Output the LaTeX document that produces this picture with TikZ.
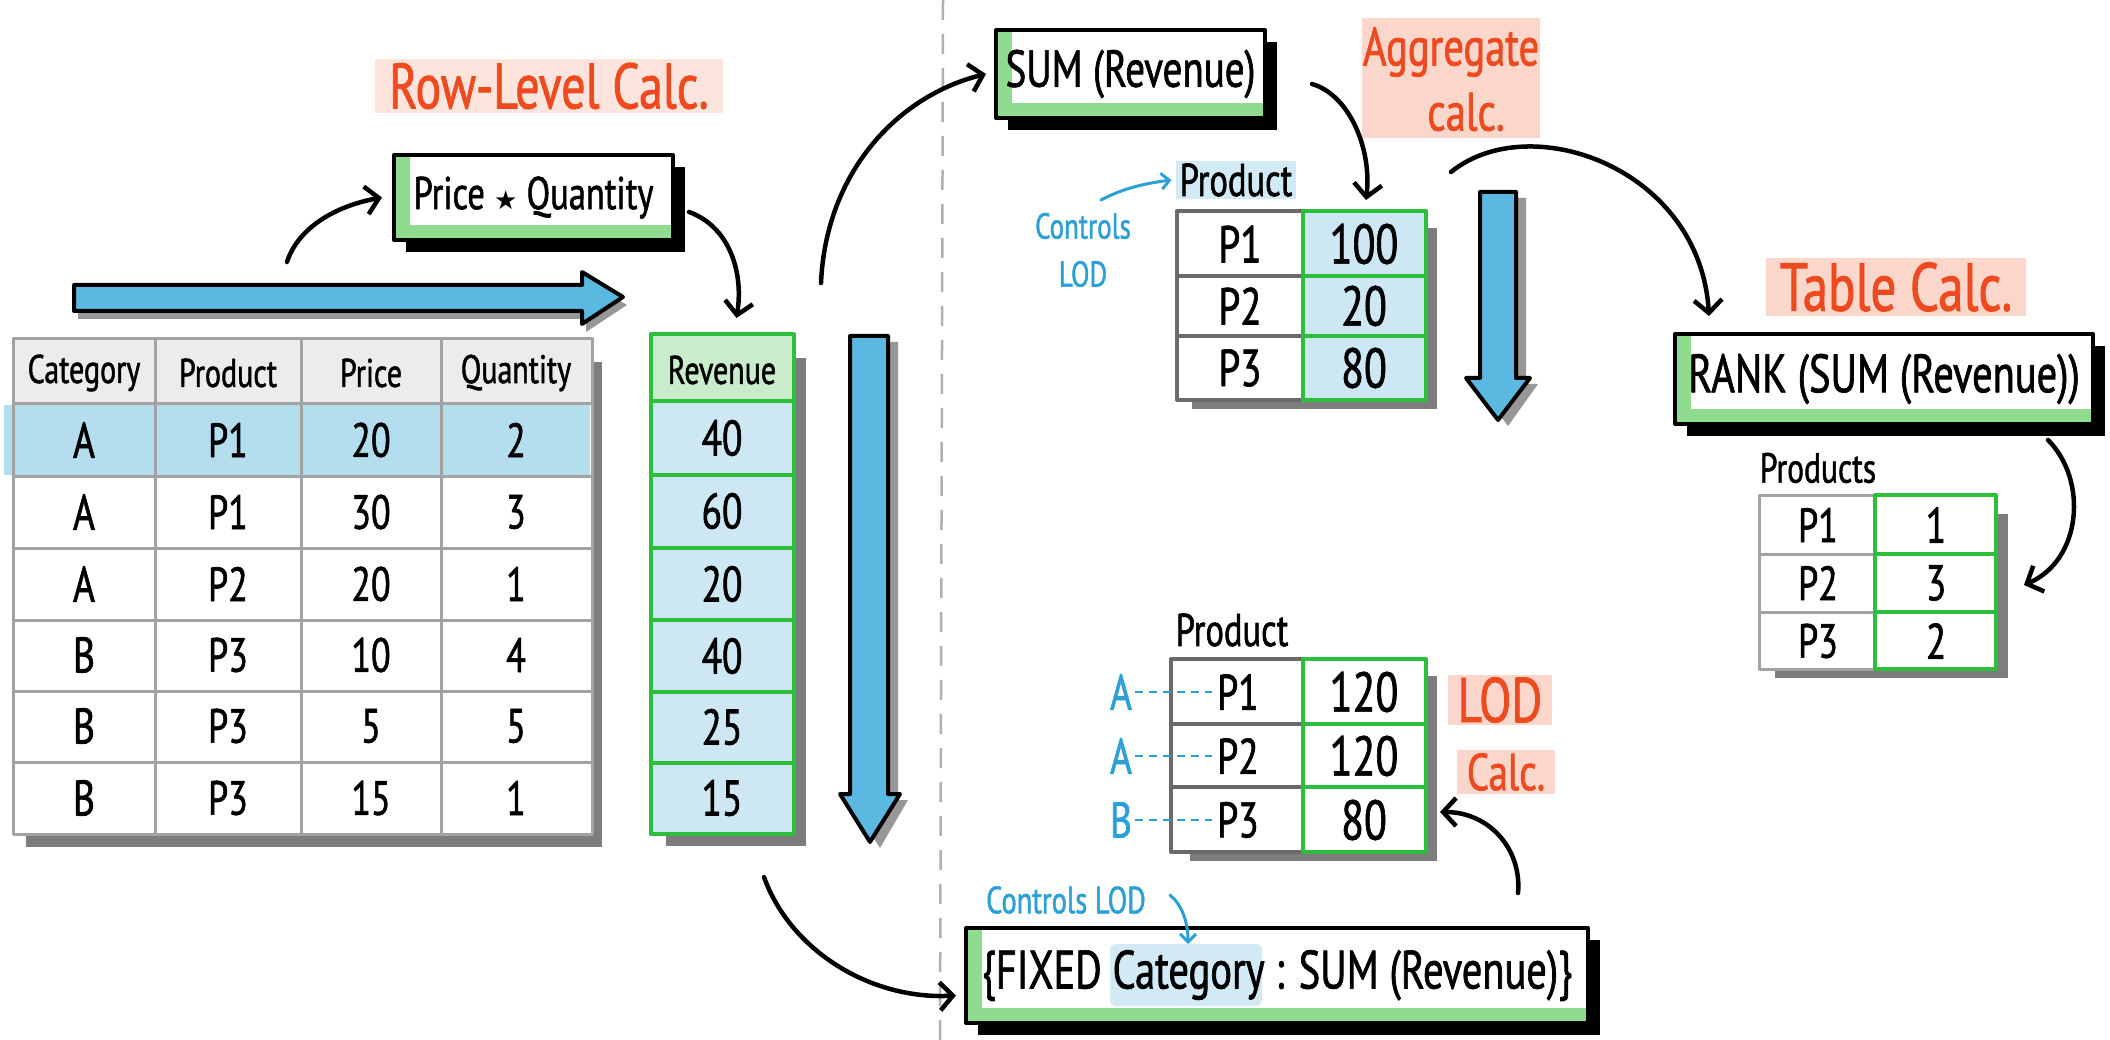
\documentclass[tikz,border=0pt]{standalone}
\usepackage{fontspec}
\setmainfont{PT Sans}
\newfontfamily\hand[FakeStretch=0.75,FakeBold=1.2]{PT Sans}
\newfontfamily\symf{DejaVu Sans}
\usetikzlibrary{arrows.meta}
\definecolor{ablue}{HTML}{5BB8E0}
\definecolor{cellblue}{HTML}{CDE8F4}
\definecolor{rowblue}{HTML}{B4DDEE}
\definecolor{lgreen}{HTML}{C9EDCA}
\definecolor{tgreen}{HTML}{2DBE3C}
\definecolor{boxgreen}{HTML}{8FDC90}
\definecolor{orng}{HTML}{EE4A1F}
\definecolor{hlpink}{HTML}{FBD6CB}
\definecolor{hlpinkl}{HTML}{FDE4DC}
\definecolor{tblue}{HTML}{2BA0D6}
\definecolor{hlblue}{HTML}{D2EAF5}
\definecolor{shgray}{HTML}{7D7D7D}
\definecolor{tgray}{HTML}{A2A2A2}
\definecolor{dgray}{HTML}{6A6A6A}
\definecolor{hdrgray}{HTML}{ECECEC}
\definecolor{divgray}{HTML}{B0B0B0}
\newcommand\hsz[1]{\fontsize{#1}{#1}\selectfont}
% name, x, y, w, h, font size, text, extra drawing under the text
\newcommand\calcbox[8]{%
  \fill[black] ({#2-#4/2+12},{#3-#5/2+12}) rectangle ({#2+#4/2+12},{#3+#5/2+12});
  \fill[white] ({#2-#4/2},{#3-#5/2}) rectangle ({#2+#4/2},{#3+#5/2});
  \fill[boxgreen] ({#2-#4/2+2},{#3-#5/2+2}) rectangle ({#2-#4/2+16},{#3+#5/2-2});
  \fill[boxgreen] ({#2-#4/2+2},{#3+#5/2-15}) rectangle ({#2+#4/2-2},{#3+#5/2-2});
  #8
  \node[draw=black, line width=4pt, minimum width=#4pt, minimum height=#5pt, inner sep=0pt, outer sep=0pt, font=\hand\hsz{#6}] (#1) at (#2,#3) {#7};
}
\tikzset{
  txt/.style={inner sep=0pt, text=black},
  frame/.style={inner sep=0pt, outer sep=0pt},
  carrow/.style={line width=4.5pt, line cap=round, -{Straight Barb[length=13pt,width=28pt,line width=4.5pt]}},
  barrow/.style={line width=3pt, draw=tblue, line cap=round, -{Straight Barb[length=8pt,width=16pt,line width=3pt]}},
  bigarrow/.style={fill=ablue, draw=black, line width=4pt, line join=round},
  arrowshadow/.style={fill=shgray!80},
  tline/.style={draw=tgray, line width=3pt},
  gline/.style={draw=tgreen, line width=4pt},
  dline/.style={draw=dgray, line width=4pt},
  calclabel/.style={text=orng, font=\hand\hsz{64}, inner xsep=14pt, inner ysep=4pt},
  bluetxt/.style={text=tblue, inner sep=0pt},
}
\begin{document}
\begin{tikzpicture}[x=1pt, y=-1pt, line join=round]
\useasboundingbox (0,0) rectangle (2110,1040);
\fill[white] (0,0) rectangle (2110,1040);

% divider
\draw[divgray, line width=2.5pt, dash pattern=on 20pt off 14pt] (943,0) -- (940,1040);

% ---------- Row-level calc ----------
\node[calclabel, fill=hlpinkl] (rowlbl) at (549,86) {Row-Level Calc.};

% horizontal blue arrow
\fill[arrowshadow] (78,293) -- (586,293) -- (586,280) -- (627,305) -- (586,332) -- (586,319) -- (78,319) -- cycle;
\draw[bigarrow] (74,285) -- (582,285) -- (582,272) -- (623,297) -- (582,324) -- (582,311) -- (74,311) -- cycle;

% source table
\fill[shgray] (26,362) rectangle (602,847);
\fill[white] (13,339) rectangle (592,834);
\fill[hdrgray] (13,339) rectangle (592,404);
\fill[rowblue] (4,405) rectangle (590,475);
\foreach \yy in {404,476,548,620,691,762} \draw[tline] (13,\yy) -- (592,\yy);
\foreach \xx in {155,301,441} \draw[tline] (\xx,339) -- (\xx,834);
\draw[tline] (13,339) rectangle (592,834);
\node[frame, minimum width=579pt, minimum height=495pt] (tbl) at (302.5,586.5) {};
\foreach \c/\x in {Category/84, Product/228, Price/371, Quantity/516}
  \node[txt, font=\hand\hsz{40}] (h\c) at (\x,373) {\c};
\foreach \n/\y/\a/\b/\c/\d in {1/440/A/P1/20/2, 2/512/A/P1/30/3, 3/584/A/P2/20/1, 4/655/B/P3/10/4, 5/726/B/P3/5/5, 6/798/B/P3/15/1}{
  \node[txt, font=\hand\hsz{50}] (cat\n) at (84,\y) {\a};
  \node[txt, font=\hand\hsz{48}] (prd\n) at (228,\y) {\b};
  \node[txt, font=\hand\hsz{48}] (prc\n) at (371,\y) {\c};
  \node[txt, font=\hand\hsz{48}] (qty\n) at (516,\y) {\d};
}

% Price * Quantity box
\calcbox{pq}{533.5}{197.5}{279}{85}{46}{Price {\symf\hsz{26}★} Quantity}{}

% Revenue column
\fill[shgray] (666,358) rectangle (806,846);
\fill[lgreen] (651,334) rectangle (794,401);
\fill[cellblue] (651,401) rectangle (794,834);
\foreach \yy in {401,475,548,620,692,763} \draw[gline] (651,\yy) -- (794,\yy);
\draw[gline] (651,334) rectangle (794,834);
\node[frame, minimum width=143pt, minimum height=500pt] (rev) at (722.5,584) {};
\node[txt, font=\hand\hsz{40}] (revh) at (722,370) {Revenue};
\foreach \n/\y/\v in {1/438/40, 2/511/60, 3/584/20, 4/656/40, 5/727/25, 6/798/15}
  \node[txt, font=\hand\hsz{50}] (rv\n) at (722,\y) {\v};

% left vertical blue arrow
\fill[arrowshadow] (860,342) -- (898,342) -- (898,800) -- (908,800) -- (880,848) -- (850,800) -- (860,800) -- cycle;
\draw[bigarrow] (850,336) -- (888,336) -- (888,794) -- (900,794) -- (870,842) -- (840,794) -- (850,794) -- cycle;

% arrows row level
\coordinate (s1) at (287,262);
\draw[carrow] (s1) .. controls (298,228) and (335,206) .. ([xshift=-12pt]pq.west);
\coordinate (s2) at (689,212);
\draw[carrow] (s2) .. controls (728,226) and (744,270) .. ([xshift=14pt,yshift=16pt]rev.north);

% ---------- Aggregate ----------
\calcbox{sum}{1130.5}{74}{269}{88}{52}{SUM (Revenue)}{}
\coordinate (s3) at (821,283);
\draw[carrow] (s3) .. controls (826,170) and (900,95) .. ([xshift=-10pt]sum.west);

\fill[hlpink] (1362,18) rectangle (1540,138);
\node[text=orng, font=\hand\hsz{54}, inner sep=0pt] (agglbl1) at (1451,52) {Aggregate};
\node[text=orng, font=\hand\hsz{54}, inner sep=0pt] (agglbl2) at (1466,112) {calc.};

\coordinate (s4) at (1312,84);
% agg table
\fill[shgray] (1192,228) rectangle (1437,409);
\fill[white] (1177,211) rectangle (1303,400);
\fill[cellblue] (1303,211) rectangle (1426,400);
\draw[dline] (1303,276) -- (1177,276);
\draw[dline] (1303,336) -- (1177,336);
\draw[dline] (1303,211) -- (1177,211) -- (1177,400) -- (1303,400);
\draw[gline] (1303,276) -- (1426,276);
\draw[gline] (1303,336) -- (1426,336);
\draw[gline] (1303,211) rectangle (1426,400);
\node[frame, minimum width=249pt, minimum height=189pt] (agg) at (1301.5,305.5) {};
\foreach \n/\y/\v in {1/244/100, 2/306/20, 3/368/80}{
  \node[txt, font=\hand\hsz{52}] (ap\n) at (1240,\y) {P\n};
  \node[txt, font=\hand\hsz{56}] (av\n) at (1364,\y) {\v};
}
\draw[carrow] (s4) .. controls (1350,95) and (1372,150) .. ([xshift=64.5pt,yshift=11pt]agg.north);

\node[txt, font=\hand\hsz{46}, fill=hlblue, inner xsep=4pt, inner ysep=2pt] (aggprod) at (1236,180) {Product};
\node[bluetxt, font=\hand\hsz{36}] (ctrl1a) at (1083,226) {Controls};
\node[bluetxt, font=\hand\hsz{36}] (ctrl1b) at (1083,274) {LOD};
\coordinate (s9) at (1101,200);
\draw[barrow] (s9) .. controls (1120,190) and (1140,184) .. ([xshift=-4pt]aggprod.west);

% right vertical blue arrow
\fill[arrowshadow] (1490,198) -- (1526,198) -- (1526,384) -- (1538,384) -- (1508,426) -- (1476,384) -- (1490,384) -- cycle;
\draw[bigarrow] (1480,192) -- (1516,192) -- (1516,378) -- (1530,378) -- (1498,420) -- (1466,378) -- (1480,378) -- cycle;

% ---------- Table calc ----------
\node[calclabel, font=\hand\hsz{68}, fill=hlpink] (tbllbl) at (1896,287) {Table Calc.};
\calcbox{rank}{1884}{379}{418}{90}{54}{RANK (SUM (Revenue))}{}
\coordinate (s5) at (1451,172);
\draw[carrow] (s5) .. controls (1530,108) and (1700,168) .. ([xshift=-175pt,yshift=18pt]rank.north);

\node[txt, font=\hand\hsz{42}] (rprod) at (1818,468) {Products};
\fill[shgray] (1775,514) rectangle (2008,678);
\fill[white] (1759,495) rectangle (1996,669);
\draw[tline] (1875,554) -- (1759,554);
\draw[tline] (1875,612) -- (1759,612);
\draw[tline] (1875,495) -- (1759,495) -- (1759,669) -- (1875,669);
\draw[gline] (1875,554) -- (1996,554);
\draw[gline] (1875,612) -- (1996,612);
\draw[gline] (1875,495) rectangle (1996,669);
\node[frame, minimum width=237pt, minimum height=174pt] (rtbl) at (1877.5,582) {};
\foreach \n/\y/\v in {1/525/1, 2/583/3, 3/641/2}{
  \node[txt, font=\hand\hsz{48}] (rp\n) at (1818,\y) {P\n};
  \node[txt, font=\hand\hsz{50}] (rv\n) at (1936,\y) {\v};
}
\coordinate (s6) at (2048,440);
\draw[carrow] (s6) .. controls (2088,480) and (2082,560) .. ([xshift=28pt,yshift=-3pt]rtbl.east);

% ---------- LOD ----------
\node[txt, font=\hand\hsz{46}] (lprod) at (1232,630) {Product};
\fill[shgray] (1190,676) rectangle (1437,861);
\fill[white] (1171,659) rectangle (1426,852);
\draw[dline] (1303,724) -- (1171,724);
\draw[dline] (1303,787) -- (1171,787);
\draw[dline] (1303,659) -- (1171,659) -- (1171,852) -- (1303,852);
\draw[gline] (1303,724) -- (1426,724);
\draw[gline] (1303,787) -- (1426,787);
\draw[gline] (1303,659) rectangle (1426,852);
\node[frame, minimum width=255pt, minimum height=193pt] (lod) at (1298.5,755.5) {};
\foreach \n/\y/\v/\c in {1/692/120/A, 2/756/120/A, 3/820/80/B}{
  \node[txt, font=\hand\hsz{50}] (lp\n) at (1238,\y) {P\n};
  \node[txt, font=\hand\hsz{56}] (lv\n) at (1364,\y) {\v};
  \node[bluetxt, font=\hand\hsz{50}] (lc\n) at (1121,\y) {\c};
  \draw[tblue, line width=2pt, dash pattern=on 8pt off 6pt] ([xshift=3pt]lc\n.east) -- ([xshift=-5pt]lp\n.west);
}
\node[calclabel, font=\hand\hsz{63}, fill=hlpink, inner xsep=10pt, inner ysep=2pt] (lodlbl1) at (1500,700) {LOD};
\node[text=orng, font=\hand\hsz{52}, fill=hlpink, inner xsep=10pt, inner ysep=3pt] (lodlbl2) at (1506,772) {Calc.};

\calcbox{fixed}{1277}{975.5}{622}{95}{54}{\{FIXED Category : SUM (Revenue)\}}{\fill[hlblue, rounded corners=6pt] (1110,944) rectangle (1262,1006);}
\node[bluetxt, font=\hand\hsz{38}] (ctrl2) at (1066,900) {Controls LOD};
\coordinate (s10) at (1170,895);
\draw[barrow] (s10) .. controls (1182,905) and (1188,922) .. (1188,944);

\coordinate (s7) at (1518,893);
\draw[carrow] (s7) .. controls (1522,850) and (1490,812) .. ([xshift=14pt,yshift=-56.5pt]lod.east);
\coordinate (s8) at (764,877);
\draw[carrow] (s8) .. controls (790,950) and (870,1000) .. ([xshift=-10pt,yshift=-20pt]fixed.west);
\end{tikzpicture}
\end{document}
